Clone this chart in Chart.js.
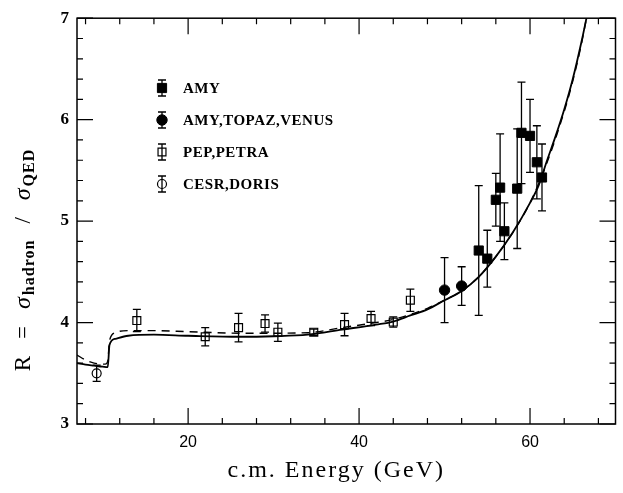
<!DOCTYPE html>
<html>
<head>
    <title>R ratio</title>
    <script src="https://cdn.jsdelivr.net/npm/chart.js"></script>
    <style>
        html, body { margin: 0; padding: 0; background: #fff; }
        canvas { display: block; }
    </style>
</head>
<body>
    <canvas id="rChart" width="623" height="493"></canvas>

    <script>
        // measurements (E in GeV, R, symmetric error)
        const amyE = [54.0, 55.0, 56.0, 56.5, 57.0, 58.5, 59.0, 60.0, 60.8, 61.4];
        const amyR = [4.71, 4.63, 5.21, 5.33, 4.90, 5.32, 5.87, 5.84, 5.58, 5.43];
        const amyErr = [0.64, 0.28, 0.26, 0.53, 0.28, 0.59, 0.50, 0.36, 0.36, 0.33];

        const comboE = [50.0, 52.0];
        const comboR = [4.32, 4.36];
        const comboErr = [0.32, 0.19];

        const pepE = [14.0, 22.0, 25.9, 29.0, 30.5, 34.7, 38.3, 41.4, 44.0, 46.0];
        const pepR = [4.02, 3.86, 3.95, 3.99, 3.905, 3.905, 3.98, 4.04, 4.005, 4.22];
        const pepErr = [0.11, 0.09, 0.14, 0.085, 0.09, 0.03, 0.11, 0.07, 0.05, 0.11];

        const cesrE = [9.3];
        const cesrR = [3.50];
        const cesrErr = [0.08];

        // theory curves
        const solidE = [7, 8, 9, 10, 10.6, 10.8, 11.5, 13, 16, 20, 26, 30, 34, 38, 42, 44, 46, 48, 50, 52, 54, 56, 58, 60, 61, 62, 63, 64, 65, 66, 66.6, 67.2];
        const solidR = [3.60, 3.585, 3.575, 3.565, 3.56, 3.78, 3.84, 3.87, 3.88, 3.87, 3.86, 3.865, 3.88, 3.93, 3.98, 4.01, 4.07, 4.13, 4.22, 4.31, 4.45, 4.65, 4.89, 5.18, 5.35, 5.60, 5.84, 6.10, 6.40, 6.76, 7.0, 7.25];

        const dashE = [7, 8, 9, 10.3, 10.6, 10.8, 11.5, 13, 16, 20, 26, 30, 34, 38, 42, 44, 46, 48, 50, 52, 54, 56, 58, 60, 62, 64, 65, 66, 66.6, 67.2];
        const dashR = [3.68, 3.63, 3.60, 3.59, 3.62, 3.82, 3.90, 3.92, 3.92, 3.91, 3.895, 3.895, 3.90, 3.95, 4.00, 4.03, 4.08, 4.14, 4.22, 4.31, 4.45, 4.65, 4.89, 5.18, 5.58, 6.08, 6.38, 6.74, 7.0, 7.25];

        const xLabelTicks = [20, 40, 60];
        const legendNames = ['AMY', 'AMY,TOPAZ,VENUS', 'PEP,PETRA', 'CESR,DORIS'];

        const pts = (xs, ys) => xs.map((x, i) => ({ x: x, y: ys[i] }));

        const errorBars = {
            id: 'errorBars',
            afterDatasetsDraw(chart) {
                const { ctx, scales: { x, y } } = chart;
                ctx.save();
                ctx.strokeStyle = '#000';
                ctx.lineWidth = 1.3;
                chart.data.datasets.forEach(ds => {
                    if (!ds.errors) return;
                    ds.data.forEach((p, i) => {
                        const px = x.getPixelForValue(p.x);
                        const top = y.getPixelForValue(p.y + ds.errors[i]);
                        const bot = y.getPixelForValue(p.y - ds.errors[i]);
                        ctx.beginPath();
                        ctx.moveTo(px, top); ctx.lineTo(px, bot);
                        ctx.moveTo(px - 4, top); ctx.lineTo(px + 4, top);
                        ctx.moveTo(px - 4, bot); ctx.lineTo(px + 4, bot);
                        ctx.stroke();
                    });
                });
                ctx.restore();
            }
        };

        // frame, inward ticks, axis titles and legend
        const decorations = {
            id: 'decorations',
            afterDraw(chart) {
                const { ctx, chartArea: a, scales: { x, y } } = chart;
                ctx.save();
                ctx.strokeStyle = '#000';
                ctx.lineWidth = 1.5;
                ctx.strokeRect(a.left, a.top, a.right - a.left, a.bottom - a.top);

                ctx.lineWidth = 1.2;
                ctx.beginPath();
                for (let v = 8; v <= 70; v += 4) {
                    const px = x.getPixelForValue(v);
                    const len = v % 20 === 0 ? 16 : 6;
                    ctx.moveTo(px, a.bottom); ctx.lineTo(px, a.bottom - len);
                    ctx.moveTo(px, a.top); ctx.lineTo(px, a.top + len);
                }
                for (let k = 15; k <= 35; k++) {
                    const py = y.getPixelForValue(k / 5);
                    const len = k % 5 === 0 ? 16 : 6;
                    ctx.moveTo(a.left, py); ctx.lineTo(a.left + len, py);
                    ctx.moveTo(a.right, py); ctx.lineTo(a.right - len, py);
                }
                ctx.stroke();

                // x title
                ctx.fillStyle = '#000';
                ctx.font = '24px "Liberation Serif", serif';
                ctx.letterSpacing = '2px';
                ctx.textAlign = 'center';
                ctx.textBaseline = 'alphabetic';
                ctx.fillText('c.m. Energy (GeV)', (a.left + a.right) / 2 - 10, 477);

                // y title with subscripts
                ctx.save();
                ctx.translate(24, 260);
                ctx.rotate(-Math.PI / 2);
                const main = '23px "Liberation Serif", serif';
                const sig = 'italic 24px "Liberation Serif", serif';
                const sub = 'bold 16px "Liberation Serif", serif';
                const parts = [
                    ['R', main, 0, 16], ['=', main, 0, 16],
                    ['σ', sig, 0, 1], ['hadron', sub, 6, 16],
                    ['/', main, 0, 16],
                    ['σ', sig, 0, 1], ['QED', sub, 6, 0]
                ];
                ctx.letterSpacing = '1px';
                let total = 0;
                parts.forEach(p => { ctx.font = p[1]; total += ctx.measureText(p[0]).width + p[3]; });
                let cx = -total / 2;
                ctx.textAlign = 'left';
                ctx.textBaseline = 'middle';
                parts.forEach(p => {
                    ctx.font = p[1];
                    ctx.fillText(p[0], cx, p[2]);
                    cx += ctx.measureText(p[0]).width + p[3];
                });
                ctx.restore();

                // legend
                ctx.letterSpacing = '0.5px';
                const mx = a.left + 85, tx = a.left + 106;
                chart.data.datasets.slice(0, 4).forEach((ds, i) => {
                    const ly = 88 + i * 32;
                    ctx.strokeStyle = '#000';
                    ctx.lineWidth = 1.3;
                    ctx.beginPath();
                    ctx.moveTo(mx, ly - 8); ctx.lineTo(mx, ly + 8);
                    ctx.moveTo(mx - 4, ly - 8); ctx.lineTo(mx + 4, ly - 8);
                    ctx.moveTo(mx - 4, ly + 8); ctx.lineTo(mx + 4, ly + 8);
                    ctx.stroke();
                    ctx.fillStyle = ds.pointBackgroundColor;
                    ctx.lineWidth = ds.borderWidth;
                    Chart.helpers.drawPoint(ctx, {
                        pointStyle: ds.pointStyle,
                        radius: ds.pointRadius,
                        borderWidth: ds.borderWidth
                    }, mx, ly);
                    ctx.fillStyle = '#000';
                    ctx.font = 'bold 15px "Liberation Serif", serif';
                    ctx.textAlign = 'left';
                    ctx.textBaseline = 'middle';
                    ctx.fillText(legendNames[i], tx, ly + 1);
                });
                ctx.restore();
            }
        };

        const ctx = document.getElementById('rChart').getContext('2d');

        new Chart(ctx, {
            type: 'scatter',
            data: {
                datasets: [
                    { label: legendNames[0], data: pts(amyE, amyR), errors: amyErr,
                      pointStyle: 'rect', pointRadius: 6.5, borderWidth: 1,
                      pointBackgroundColor: '#000', pointBorderColor: '#000' },
                    { label: legendNames[1], data: pts(comboE, comboR), errors: comboErr,
                      pointStyle: 'circle', pointRadius: 5.2, borderWidth: 1,
                      pointBackgroundColor: '#000', pointBorderColor: '#000' },
                    { label: legendNames[2], data: pts(pepE, pepR), errors: pepErr,
                      pointStyle: 'rect', pointRadius: 5.6, borderWidth: 1.2,
                      pointBackgroundColor: 'rgba(0,0,0,0)', pointBorderColor: '#000' },
                    { label: legendNames[3], data: pts(cesrE, cesrR), errors: cesrErr,
                      pointStyle: 'circle', pointRadius: 4.5, borderWidth: 1.2,
                      pointBackgroundColor: 'rgba(0,0,0,0)', pointBorderColor: '#000' },
                    { label: 'theory', data: pts(solidE, solidR), showLine: true,
                      pointRadius: 0, borderColor: '#000', borderWidth: 1.8,
                      cubicInterpolationMode: 'monotone' },
                    { label: 'theory dashed', data: pts(dashE, dashR), showLine: true,
                      pointRadius: 0, borderColor: '#000', borderWidth: 1.4,
                      borderDash: [8, 6], cubicInterpolationMode: 'monotone' }
                ]
            },
            options: {
                responsive: false,
                animation: false,
                layout: { padding: { top: 13, right: 1, left: 0, bottom: 0 } },
                scales: {
                    x: {
                        type: 'linear', min: 7, max: 70,
                        grid: { display: false, drawTicks: false },
                        border: { display: false },
                        afterBuildTicks: s => { s.ticks = xLabelTicks.map(v => ({ value: v })); },
                        afterFit: s => { s.height = 69; },
                        ticks: { padding: 9, color: '#000',
                                 font: { family: '"Liberation Sans", sans-serif', size: 16 } }
                    },
                    y: {
                        min: 3, max: 7,
                        grid: { display: false, drawTicks: false },
                        border: { display: false },
                        afterFit: s => { s.width = 77; },
                        ticks: { stepSize: 1, padding: 8, color: '#000',
                                 font: { family: '"Liberation Serif", serif', size: 17, weight: 'bold' } }
                    }
                },
                plugins: {
                    legend: { display: false },
                    tooltip: { enabled: false }
                }
            },
            plugins: [errorBars, decorations]
        });
    </script>
</body>
</html>
